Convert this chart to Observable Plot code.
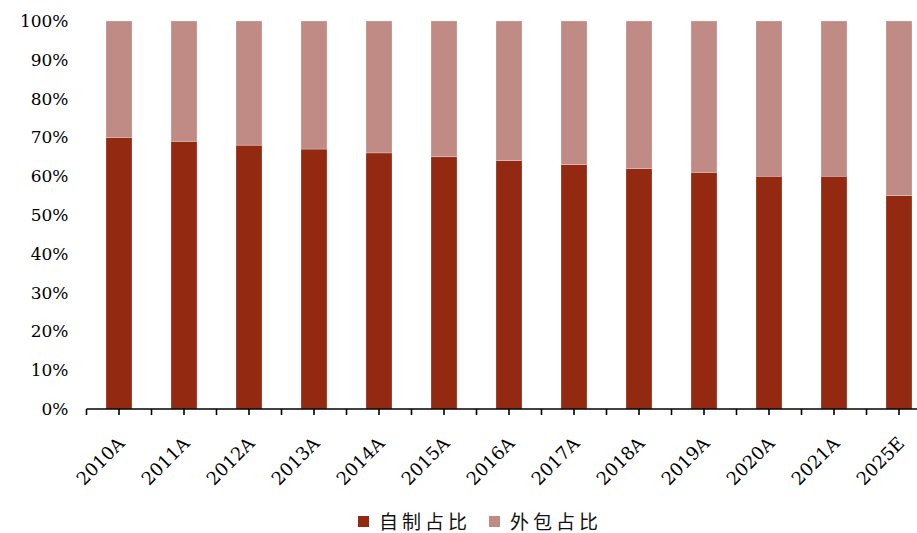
<!DOCTYPE html>
<html>
<head>
<meta charset="utf-8">
<script src="https://cdn.jsdelivr.net/npm/d3@7"></script>
<script src="https://cdn.jsdelivr.net/npm/@observablehq/plot@0.6"></script>
<style>
  html, body { margin: 0; padding: 0; background: #fff; }
  #wrap { position: relative; width: 917px; height: 533px; }
  #legend { position: absolute; left: 358px; top: 511px; display: flex; align-items: center; white-space: nowrap;
            font-family: "Noto Sans CJK SC", sans-serif; font-size: 19px; line-height: 20px; color: #111; }
  .sw { display: inline-block; width: 11px; height: 11px; margin-right: 10px; }
  .item { display: flex; align-items: center; margin-right: 18px; }
  .lab { letter-spacing: 4px; }
</style>
</head>
<body>
<div id="wrap"><div id="chart"></div>
<div id="legend"></div></div>
<script>
const years = ["2010A","2011A","2012A","2013A","2014A","2015A","2016A","2017A","2018A","2019A","2020A","2021A","2025E"];
const selfMade = [70,69,68,67,66,65,64,63,62,61,60,60,55];
const outsourced = selfMade.map(v => 100 - v);
const seriesNames = ["自制占比","外包占比"];
const colors = ["#922910","#C08A85"];
const yTicks = [0,10,20,30,40,50,60,70,80,90,100];

const data = [];
years.forEach((y, i) => {
  data.push({year: y, series: seriesNames[0], value: selfMade[i]});
  data.push({year: y, series: seriesNames[1], value: outsourced[i]});
});

const chart = Plot.plot({
  width: 917, height: 503,
  marginLeft: 86, marginRight: 0, marginTop: 21, marginBottom: 94,
  style: {fontFamily: "'DejaVu Serif', serif", fontSize: "17px", color: "#000", overflow: "visible"},
  x: {domain: years, range: [86, 931], paddingInner: 0.6, paddingOuter: 0.3, align: 0.5, label: null},
  y: {domain: [0,100], ticks: yTicks, tickFormat: d => d + "%", label: null, tickSize: 0, tickPadding: 18},
  color: {domain: seriesNames, range: colors},
  marks: [
    Plot.barY(data, {x: "year", y: "value", fill: "series", stroke: "#fff", strokeWidth: 0.5, strokeOpacity: 0.5, order: seriesNames}),
    Plot.axisX({tickSize: 0, tickRotate: -45, tickPadding: 24, dy: 7, dx: 2, fontSize: 18, label: null, fill: "#000"})
  ]
});
document.getElementById("chart").appendChild(chart);

// axis line and tick marks at band centers and boundaries, placed through the scales
const xs = chart.scale("x"), ysc = chart.scale("y");
const svg = d3.select(chart);
const y0 = ysc.apply(0);
const positions = [];
years.forEach(y => { const c = xs.apply(y) + xs.bandwidth / 2; positions.push(c - xs.step / 2, c); });
positions.push(xs.apply(years[years.length-1]) + xs.bandwidth/2 + xs.step/2);
const g = svg.append("g").attr("stroke", "#000").attr("stroke-width", 1.6);
g.append("line").attr("x1", positions[0]).attr("x2", positions[positions.length-1]).attr("y1", y0).attr("y2", y0);
g.selectAll("line.t").data(positions).join("line").attr("class","t")
  .attr("x1", d => d).attr("x2", d => d).attr("y1", y0).attr("y2", y0 + 6);

const legend = document.getElementById("legend");
seriesNames.forEach((n, i) => {
  const it = document.createElement("div"); it.className = "item";
  it.innerHTML = `<span class="sw" style="background:${colors[i]}"></span><span class="lab">${n}</span>`;
  legend.appendChild(it);
});
</script>
</body>
</html>
